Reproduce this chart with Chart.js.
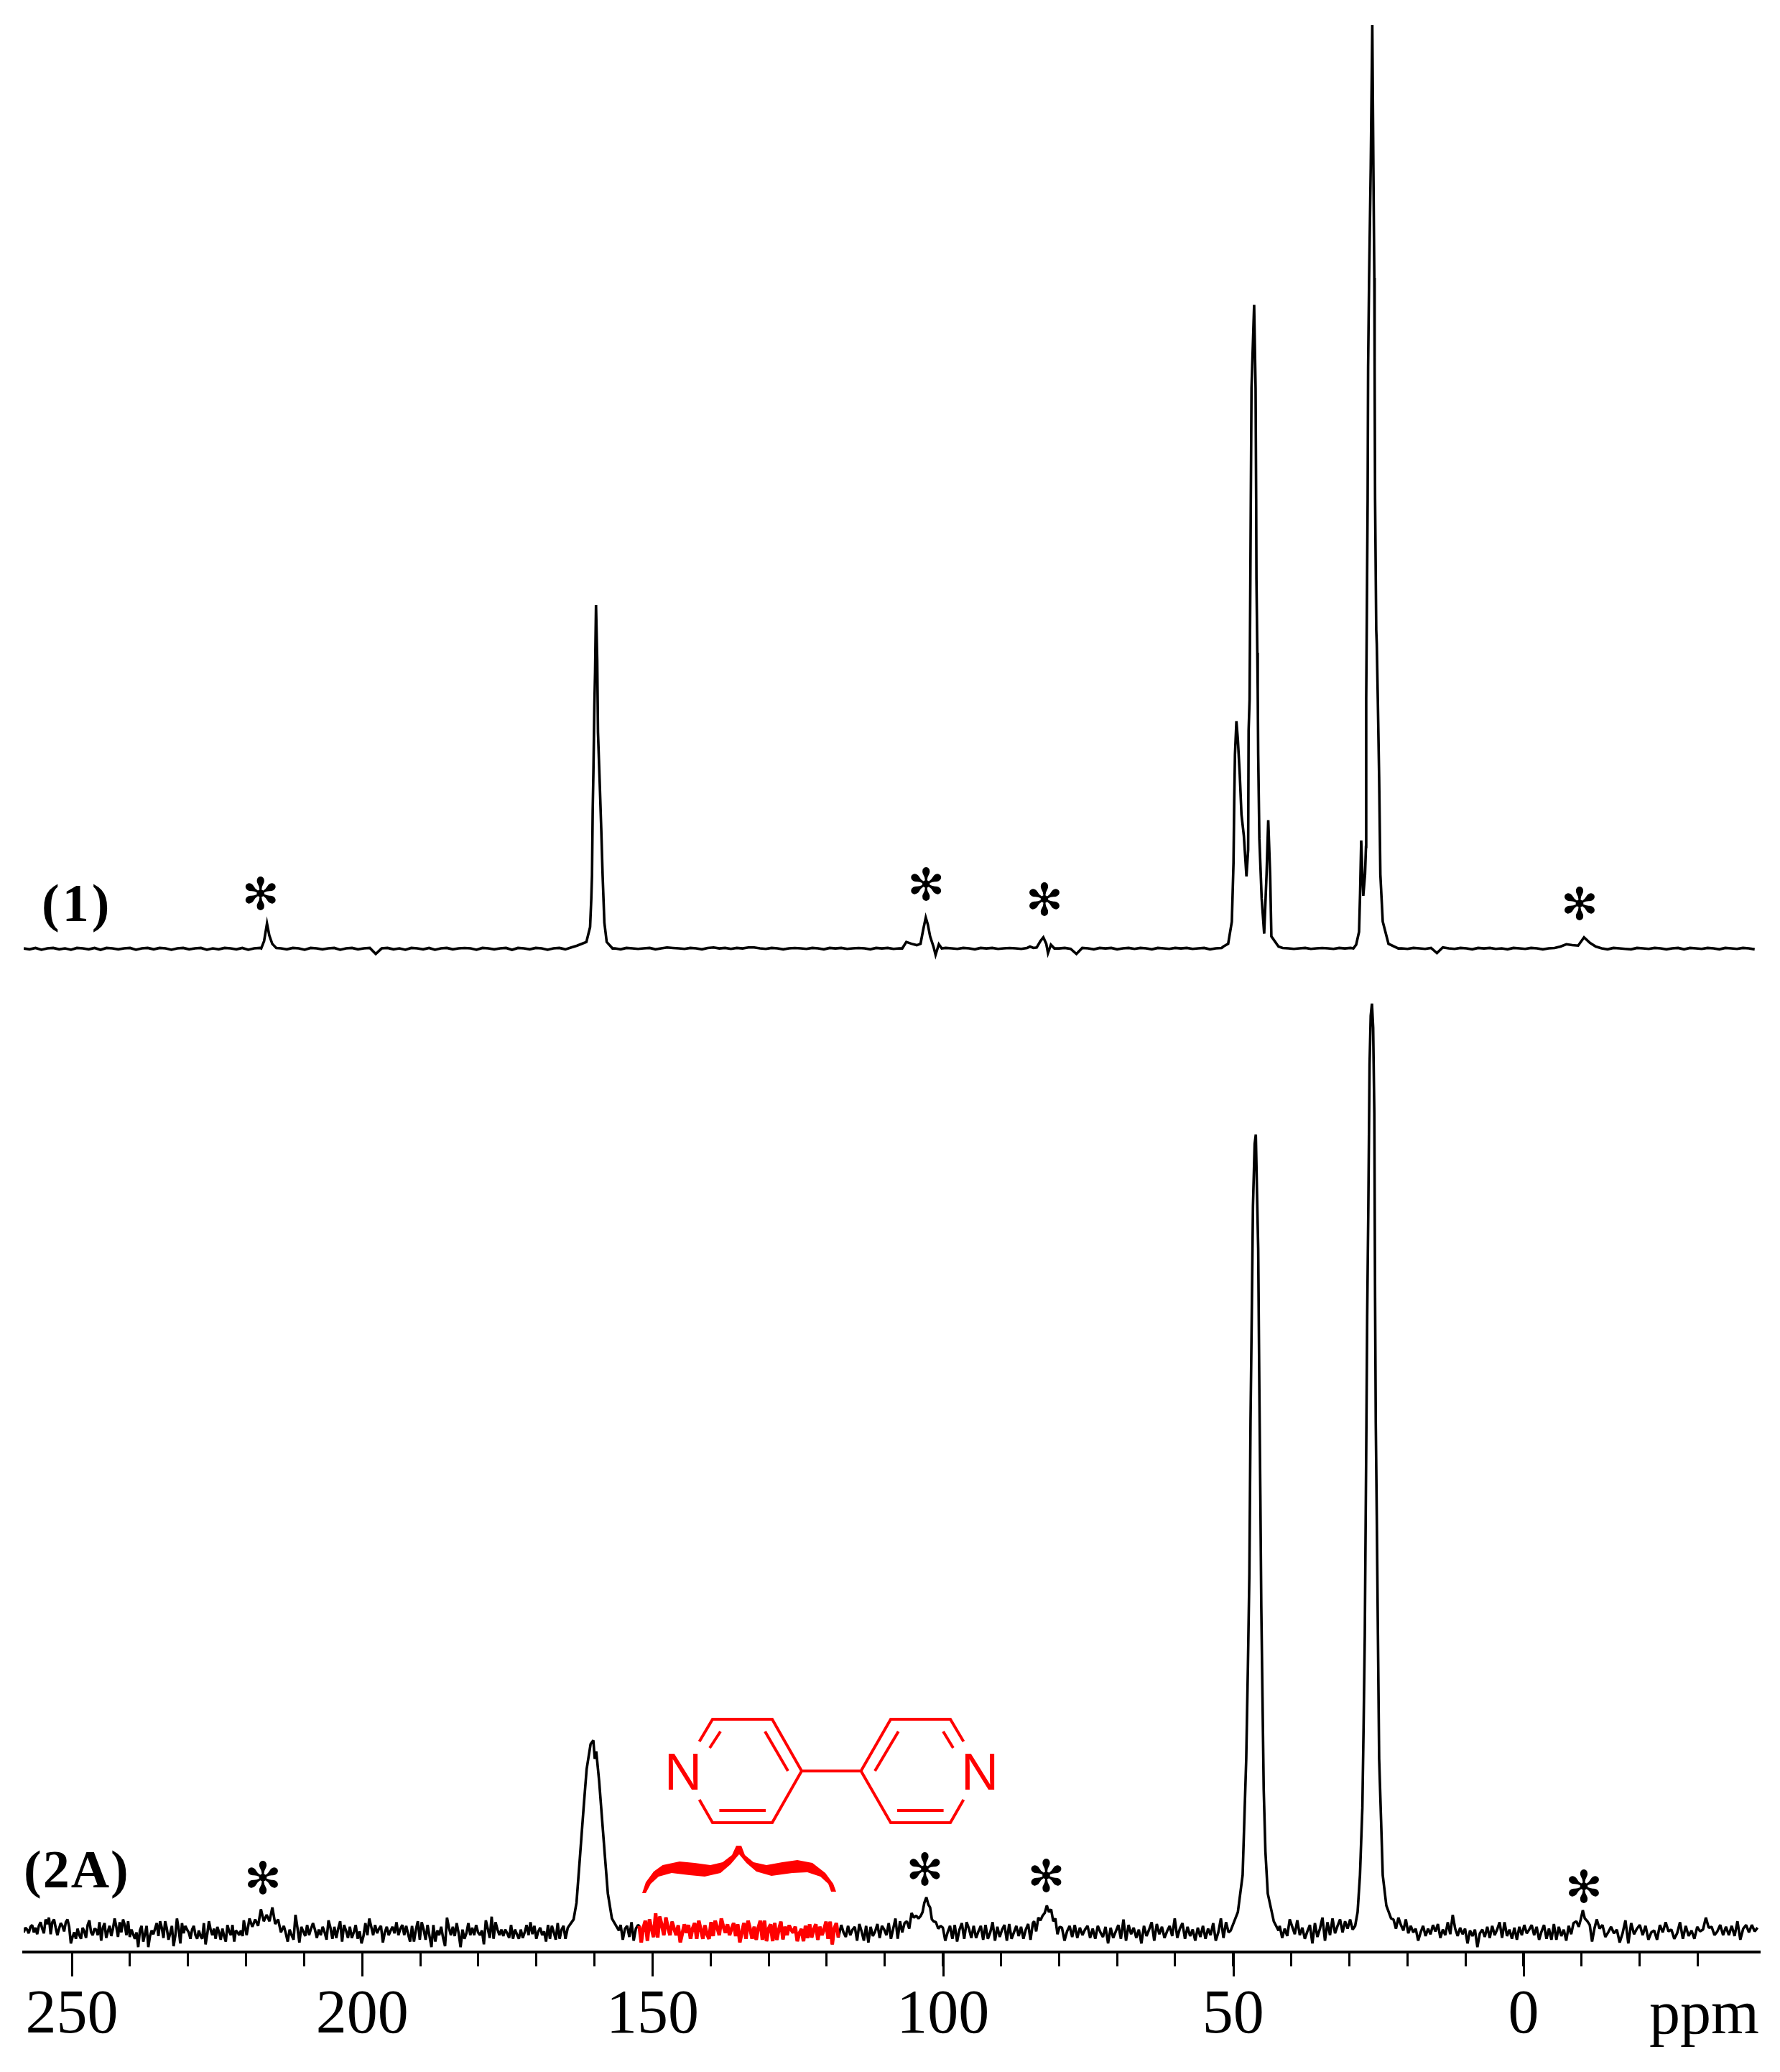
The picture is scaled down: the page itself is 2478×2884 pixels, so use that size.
<!DOCTYPE html>
<html>
<head>
<meta charset="utf-8">
<title>NMR spectra</title>
<script src="https://cdn.jsdelivr.net/npm/chart.js@4/dist/chart.umd.min.js"></script>
<style>
  html, body { margin: 0; padding: 0; background: #fff; }
  canvas { display: block; }
</style>
</head>
<body>
<canvas id="spectra" width="2478" height="2884"></canvas>
<script>
// --- axis ---
const tickValues = [250, 240, 230, 220, 210, 200, 190, 180, 170, 160, 150, 140, 130, 120, 110, 100, 90, 80, 70, 60, 50, 40, 30, 20, 10, 0, -10, -20, -30];
const majorTicks = [250, 200, 150, 100, 50, 0];

// --- spectrum (1), flat stretches read at about 1 ppm ---
const top1 = [0,-.1,.05,-.15,0,.05,-.1,0,-.15,.05,0,-.1,.05,-.15,.05,0,-.1,0,.05,-.15,0,.05,-.1,.05,0,-.15,0,.05,-.1,0,.05,-.15,0,-.1,.05,0,-.1,.05,-.15,0,.05];
const top2 = [0,-.1,.05,0,-.15,.05,0,-.1,0,.05,-.15,0,.05,-.1,0,.05,-.6,0,.05,-.1,0,-.15,.05,0,-.1,.05,-.15,0,.05,-.1,0,.05,0,-.15,.05,0,-.1,0,.05,-.15,.05,0,-.1,.05,0,-.15,0,.05,-.1,.1];
const top3 = [0,-.1,.05,0,-.05,0,.05,-.1,0,.1,.05,0,-.05,.05,0,-.1,.05,.1,0,.05,-.05,.05,0,.1,.1,0,-.05,.05,0,-.1,0,.05,0,-.05,.05,0,-.1,.05,0,.05,-.05,0,.05,0,-.1,.05,0,.05,-.05,0];
const top4 = [.05,0,-.05,.05,0,-.1,.05,0,.05,-.05,0,.05,0,-.05,.05];
const top5 = [0,.05,-.05,-.6,.05,0,-.1,.05,0,.05,-.1,0,.05,-.05,.05,0,-.1,.05,0,-.05,.05,0,.05,-.05,0,.05,-.1,0,.05];
const top6 = [.05,0,-.05,0,.05,-.05,0,.05,0,-.05,.05,0,.05];
const top7 = [0,-.05,.05,0,-.05,.05,-.5,.1,0,-.05,.05,0,-.1,.05,0,.05,-.05,0,-.1,.05,0,-.05,.05,0,-.1,0,.05,.2,.45,.35,.3,1.2,.6,.2,0,-.1,.05,0,-.05,-.1,.05,0,-.05,.05,0,-.1,0,.05,-.1,.05,0,-.05,.05,0,-.1,.05,0,-.05,.05,0,-.1];
const peak216 = [[217.4,0],[216.9,.8],[216.4,2.7],[216,1.4],[215.5,.5],[214.8,.05]];
const peak160 = [[163,.3],[161.4,.7],[160.76,2.3],[160.55,5.4],[160.43,7.9],[160.31,14.9],[160.19,19],[160.02,26.3],[159.9,29.9],[159.74,37.2],[159.53,31.2],[159.4,23.4],[159.12,18.3],[158.84,13],[158.6,7.9],[158.3,2.8],[157.9,.7],[156.9,0]];
const peak103 = [[107,0],[106.3,.7],[105.4,.5],[104.5,.35],[103.85,.5],[103.4,2],[102.95,3.35],[102.6,2.6],[102.2,1.3],[101.6,.15],[101.26,-.7],[100.7,.45],[100.2,0]];
const peak82 = [[85,.2],[84.4,.05],[83.85,.1],[83.2,.8],[82.7,1.2],[82.2,.5],[81.9,-.5],[81.4,.4],[80.8,0]];
const peak46 = [[51.7,.2],[50.87,.5],[50.24,2.9],[49.95,9.3],[49.83,15.8],[49.7,21],[49.45,24.6],[49.2,22.6],[48.88,18.9],[48.58,14.5],[48.17,12.2],[47.72,7.8],[47.43,10.7],[47.35,23.6],[47.18,27],[47.05,40],[46.97,48.7],[46.85,60.7],[46.4,69.7],[46.15,60.7],[46.05,48.7],[46,40],[45.85,32],[45.78,28],[45.7,21],[45.5,11.9],[45.1,5.4],[44.67,1.6],[44.26,8],[43.97,13.9],[43.64,8],[43.43,1.3],[42.2,.2]];
const peak26 = [[29.3,0],[28.83,.4],[28.33,1.8],[28.15,6],[27.96,11.7],[27.75,8],[27.6,5.7],[27.3,8],[27.14,11],[27.1,27],[27.01,34.5],[26.85,48.7],[26.77,63],[26.6,72.6],[26.32,84.5],[26.05,100],[25.86,84.5],[25.7,72.6],[25.65,63],[25.57,48.7],[25.37,34.5],[25.28,33],[25.1,27],[24.87,18.4],[24.66,8],[24.25,2.9],[23.26,.5],[21.57,0]];

// --- spectrum (2A), noise ---
const low1 = [-.2,.3,.1,-.3,.4,.6,-.2,.3,-.4,.5,.9,.2,-.3,1.2,.7,1.4,-.4,.9,1.2,.3,-.5,.2,.8,.5,-.1,.9,1.2,.4,-1.4,-.7,-.2,-.9,.2,-.5,-.9,.3,-.1,-.8,.6,1.1,-.2,-.5,.2,.1,-.5,.9,-1.1,.3,.8,-.8,-.1,.5,-.6,.2,1.3,.4,-.7,.9,-.2,1.2,.6,-.5,1,-.7,.1,-.4,-.9,-.2,-1.8,0,.5,-1.2,-.4,.5,-1.8,-.6,0,-.4,.2,.8,-.6,1,.3,-.8,1,.2,-1,-.3,.5,-1.7,-.6,1.3,.2,-1.4,.8,-.3,.5,.1,-.2,-.9,.1,.5,-.5,-.9,0,-.6,-.9,.8,-1.5,-.4,1,.1,-.5,.2,-.9,.4,-.2,-1,.2,-.6,-1.2,.6,-.1,-.5,.6,-1.2,0,-.2,-.5,0,-.6];
const low2 = [1.1,-.5,1.3,.4,1.2,.5,2.3,1,1.7,1,2.5,.7,1.2,-.2];
const low3 = [.5,-.3,-1.2,.1,-.5,-1,1.7,.3,-1.3,.4,-.1,-.6,.6,-.5,.2,.8,.1,-.8,.1,-.5,.4,-.2,-1,1.1,.3,-.9,.4,-.8,.2,1,-1.2,.6,0,-.8,.4,-.8,-.2,.6,-.9,-.1,-1.4,-.6,.8,-.5,1.3,.4,-.5,.6,-.3,.2,.5,-1.3,-.2,.4,-.5,0,.4,-.3,.9,-.5,.2,.6,-.5,.5,-.4,-1.2,.5,-1.2,.1,1,-1,.9,.1,-1,.6,-.6,-1.8,.6,-1.2,0,-.5,.4,-.8,-1.7,1.4,.3,-.5,.4,-.6,.8,-.3,-1.8,.1,-.9,-.3,.8,-.5,.3,-.5,.6,-.2,-.5,0,-1.5,1.1,.2,-.8,1.5,-.9,.9,.1,-.5,.1,-.6,.1,-.3,-.8,.6,-.9,.1,-.4,-.9,.1,-.8,-.2,.6,-.5,.9,-.4,.5,-.9,-.1,.3,-.5,-.1,-1.2,.6,-.9,.5,-.2,-1,.8,-.9,.1,.5,-.9];
const low4 = [.6,-1,.2,.5,-.7,.9,-1.1,.2,.6];
const lowRed = [.5,-1.3,.3,1.06,-1.1,1.2,.2,-.7,1.85,-.75,1.5,.6,-.5,1.4,.3,-.5,.95,.2,-.5,.55,-1.27,-.3,.67,-.25,.6,-.9,.2,.8,-.9,1.06,.1,-.9,.55,-.4,-.9,.9,-.6,1.06,.3,-.5,1.3,.4,-.25,.67,-.5,.2,.8,-.6,.67,-1.27,-.2,.8,-.9,1.06,.2,-.9,.4,-1,.3,1.06,-1,1.06,-1.15,.2,.67,-1.15,.8,-1,.1,.95,-.95,.4,-.5,.55,.1,-.25,.4,-1.15,-.3,.15,-1.15,.5,-.8,.67,-.75,.1,.67,-1,.4,-.5,.1,.95,-.9,.95,-1.5,.2,.8,-.75];
const low5 = [.6,-.2,-.7,.5,-.5,.1,.4,-1.1,.7,-.1,-1.1,.5,-1.3,.4,-.6,-.1,.7,-.8,.5,.1,-.5,.8,-.9,.2,1.3,-.9,1,-.2];
const low6 = [.3,-1.1,-.2,.5,-.9,.6,-1.2,.1,.8,-.9,.9,.2,-.8,.5,-.8,-.1,.5,-1,.6,-.9,-.2,.9,-1.1,.4,-.7,.1,.6,-1.1,.7,-.9,-.2,.5,-.6,.4,-.9,.1,.7,-1,.8];
const low7 = [1,-.1,1.4,1.1,1.6,1.9,2.7,2,2.3,1,1.3,-.4,.4];
const low8 = [.3,-1.1,-.1,.5,-.7,.6,-.8,.3,-.5,.1,.5,-.8,.2,-.9,.5,-.2,-.7,.4,-1.4,.3,-.8,-.1,.6,-.9,1.2,-1.1,.6,-.4,.3,-.8,.1,-1.4,.5,-.6,.1,.9,-1.1,.7,-.4,.4,-.8,-.1,.5,-.6,1.3,-.8,.2,.8,-.9,.4,-.6,.1,-1.1,.3,-.7,.5,-.9,.2,-.5,.8,-1.1,-.2,1.3,-.8,.9,-.2];
const low9 = [.5,-.8,.2,-.6,1.2,.4,-.4,1.1,-.5,.3,-.9,-.1,.6,-1.4,.8,-.7,.2,1.4,-1.1,.9,-.5,1.3,-.3,.5,1.2,-.2,1,.2,1.2,.1,.5];
const low10 = [1.2,.2,1.4,.6,0,1.2,-.3,.5,-.2,.2,-1.1,-.2,.5,-.6,.2,-.4,.6,-.1,.7,-.8,.1,-.5,.9,-.4,1.7,.2,-.6,.3,-.4,.2,-1.4,0,-.6,.1,-1.8,-.3,.1,-.7,.4,-.8,.5,-.5,.1,.9,-.8,.9,-.6,.1,-.9,.3,-1,.4,-.5,.6,-.3,.1,.6,-.5,.4,-1,-.1,.6,-.9,.2,-1,.7,-1,.4,-.6,.1,-1.1,.5,-.4];
const low11 = [1.2,.2,.6,-.7,-.2,.4,-.3,.1,-1.3,-.3,1.1,-1.4,.8,-.4,.2,.6,-.5,.5,-1,-.2,0,-1,.6,-.2,.9,-.1,.1,-.9,-.3,.9,-.9,.5,-.6,0,-.9,.4,-.1,.1,1.4,.3,.4,-.5,-.1,.6,-.5,.4,-.5,.5,-.6,1,-1,.2,.6,-.2,.6,-.1,.3];
const lowPeak160 = [[164.6,.3],[163.6,1.2],[163.1,3],[162.5,8],[161.85,13.5],[161.35,17.5],[160.67,20.2],[160.2,20.6],[159.95,18.6],[159.7,19.4],[159.2,16.2],[158.7,12.1],[158.2,8],[157.7,4],[157,1.3],[155.8,0]];
const lowPeak103 = [[106.6,.8],[106.2,1],[105.8,.2],[105.4,1.9],[105,1.4],[104.6,1.6],[104.2,1.3],[103.8,1.6],[103.5,2],[103.2,3],[102.85,3.6],[102.5,2.8],[102.2,2.5],[101.9,1.2],[101.6,1],[101.2,.9],[100.8,.2],[100.4,.5]];
const lowPeak46 = [[50.44,0],[49.2,2],[48.38,6],[47.76,18.6],[47.47,28.6],[47.22,38.6],[47.02,55.2],[46.81,66.5],[46.6,78.5],[46.31,85.2],[46.11,86.2],[45.9,79.8],[45.7,73.9],[45.5,58.5],[45.33,47.2],[45.17,35.3],[44.96,25.3],[44.75,15.3],[44.46,8.6],[44.05,4],[43.02,1],[42.2,0]];
const lowPeak26 = [[28.58,2],[28.17,6],[27.76,13.3],[27.55,22],[27.34,32],[27.22,42],[27.06,55],[26.93,66.5],[26.73,78.5],[26.52,93.8],[26.32,99.1],[26.11,100.4],[25.9,97.8],[25.7,88.5],[25.57,68.5],[25.45,55],[25.28,45],[25.08,32],[24.87,18.6],[24.54,12],[24.25,6],[23.63,2.7],[22.81,1.3]];
const lowPeakM10 = [[-8.6,.8],[-9.1,1],[-9.5,.4],[-9.85,1.2],[-10.2,2.2],[-10.55,1.3],[-11,1],[-11.4,.6],[-11.8,-1.2],[-12.2,.2]];

// --- asterisks over the sidebands: ppm, height in spectrum units ---
const starPpm1 = [217.5, 102.9, 82.5, -9.65];
const starHeight1 = [6, 7, 5.4, 4.9];
const starPpm2 = [217.1, 103.1, 82.2, -10.4];
const starHeight2 = [5.76, 6.7, 6, 4.8];

const redFrom = 152.3;
const redTo = 118;

// reparte una lista de valores entre dos ppm
function spread(start, end, values) {
    return values.map((v, i) => ({ x: start + (end - start) * i / (values.length - 1), y: v }));
}
function pairs(list) {
    return list.map(p => ({ x: p[0], y: p[1] }));
}

const spectrum1 = [].concat(
    spread(258.3, 217.6, top1), pairs(peak216), spread(214, 164, top2), pairs(peak160),
    spread(156.5, 107.5, top3), pairs(peak103), spread(99.5, 85.5, top4), pairs(peak82),
    spread(80, 52, top5), pairs(peak46), spread(41.5, 29.8, top6), pairs(peak26),
    spread(21, -39.8, top7)
);
const spectrum2 = [].concat(
    spread(258.3, 220.6, low1), spread(220.4, 214, low2), spread(213.5, 165, low3), pairs(lowPeak160),
    spread(155.5, 152.5, low4), spread(redFrom, redTo, lowRed), spread(117.5, 107, low5), pairs(lowPeak103),
    spread(100, 84.5, low6), spread(84.3, 79.9, low7), spread(79.5, 50.8, low8), pairs(lowPeak46),
    spread(42, 29, low9), pairs(lowPeak26), spread(22.4, -8.2, low10), pairs(lowPeakM10), spread(-12.6, -40.3, low11)
);
const spectrum2Red = spectrum2.filter(p => p.x <= redFrom && p.x >= redTo);

// --- everything the axis itself cannot draw ---
const bracePoints = [[894,2635],[899,2620],[910,2605],[922.5,2596],[946,2591],[967,2593],[989,2596],[1006,2592],[1019,2582],[1025,2569],[1032,2569],[1037,2582],[1049,2592],[1067,2596],[1089,2592],[1110,2589],[1131,2593],[1149,2607],[1160,2622],[1164,2633],[1157,2633],[1153,2622],[1142,2612],[1124,2606],[1103,2607],[1074,2611],[1053,2605],[1039,2593],[1029,2581],[1017,2595],[1003,2607],[981,2612],[960,2610],[935,2607],[917,2612],[906,2622],[899,2635]];
const moleculeLines = [
    [[973.6,2424],[992,2393],[1075,2393],[1116,2465],[1075,2537],[992,2537],[973.6,2505]],
    [[1003,2410],[988,2433]], [[1065,2410],[1097,2465]], [[1001.4,2520],[1066,2520]],
    [[1116,2465],[1198.6,2465]],
    [[1341.4,2424],[1323,2393],[1240,2393],[1198.6,2465],[1240,2537],[1323,2537],[1341.4,2505]],
    [[1250.7,2410],[1218,2465]], [[1313,2410],[1327,2433]], [[1249,2520],[1313.6,2520]]
];

const extras = {
    id: 'extras',
    afterDraw(chart) {
        const ctx = chart.ctx;
        const x = chart.scales.x;
        ctx.save();

        // ticks largos cada 50 ppm
        ctx.strokeStyle = '#000';
        ctx.lineWidth = 3;
        majorTicks.forEach(v => {
            const px = Math.round(x.getPixelForValue(v)) + 0.5;
            ctx.beginPath();
            ctx.moveTo(px, x.top);
            ctx.lineTo(px, x.top + 34);
            ctx.stroke();
        });

        // asteriscos
        ctx.fillStyle = '#000';
        ctx.font = '62px "DejaVu Sans"';
        ctx.textAlign = 'center';
        ctx.textBaseline = 'alphabetic';
        const m = ctx.measureText('\u273B');
        const shift = (m.actualBoundingBoxAscent - m.actualBoundingBoxDescent) / 2;
        starPpm1.forEach((p, i) => {
            ctx.fillText('\u273B', x.getPixelForValue(p), chart.scales.yTop.getPixelForValue(starHeight1[i]) + shift);
        });
        starPpm2.forEach((p, i) => {
            ctx.fillText('\u273B', x.getPixelForValue(p), chart.scales.yLow.getPixelForValue(starHeight2[i]) + shift);
        });

        // etiquetas
        ctx.textAlign = 'left';
        ctx.font = 'bold 74px "Liberation Serif"';
        ctx.letterSpacing = '4px';
        ctx.fillText('(1)', 58, 1282);
        ctx.letterSpacing = '2px';
        ctx.fillText('(2A)', 33, 2627);
        ctx.letterSpacing = '0px';
        ctx.textAlign = 'right';
        ctx.font = '86px "Liberation Serif"';
        ctx.fillText('ppm', 2449, 2830);

        // llave y bipiridina en rojo
        ctx.fillStyle = '#ff0000';
        ctx.strokeStyle = '#ff0000';
        ctx.beginPath();
        bracePoints.forEach((p, i) => i ? ctx.lineTo(p[0], p[1]) : ctx.moveTo(p[0], p[1]));
        ctx.closePath();
        ctx.fill();
        ctx.lineWidth = 4;
        ctx.lineJoin = 'miter';
        moleculeLines.forEach(line => {
            ctx.beginPath();
            line.forEach((p, i) => i ? ctx.lineTo(p[0], p[1]) : ctx.moveTo(p[0], p[1]));
            ctx.stroke();
        });
        ctx.textAlign = 'center';
        ctx.font = '72px "Liberation Sans"';
        ctx.fillText('N', 951, 2491);
        ctx.fillText('N', 1364, 2491);
        ctx.restore();
    }
};

new Chart(document.getElementById('spectra').getContext('2d'), {
    type: 'line',
    data: {
        datasets: [
            { data: spectrum1, yAxisID: 'yTop', borderColor: '#000', borderWidth: 3.6, pointRadius: 0, tension: 0, order: 2 },
            { data: spectrum2, yAxisID: 'yLow', borderColor: '#000', borderWidth: 3.6, borderJoinStyle: 'bevel', pointRadius: 0, tension: 0, order: 2 },
            // order mas bajo = se dibuja encima
            { data: spectrum2Red, yAxisID: 'yLow', borderColor: '#ff0000', borderWidth: 5, borderJoinStyle: 'bevel', pointRadius: 0, tension: 0, order: 1 }
        ]
    },
    options: {
        responsive: false,
        animation: false,
        devicePixelRatio: 1,
        layout: { padding: { left: 33, right: 28, top: 0, bottom: 0 } },
        plugins: { legend: { display: false }, tooltip: { enabled: false }, title: { display: false } },
        scales: {
            x: {
                type: 'linear',
                reverse: true,
                min: -40.7,
                max: 258.3,
                afterBuildTicks: scale => { scale.ticks = tickValues.map(v => ({ value: v })); },
                afterFit: scale => { scale.height = 167; },
                border: { display: true, color: '#000', width: 4 },
                grid: { drawOnChartArea: false, drawTicks: true, tickLength: 20, tickWidth: 3, tickColor: '#000' },
                ticks: {
                    autoSkip: false,
                    maxRotation: 0,
                    padding: 18,
                    color: '#000',
                    font: { family: '"Liberation Serif"', size: 86 },
                    callback: v => (majorTicks.includes(v) ? String(v) : '')
                }
            },
            // same units on both: 12.85 px per unit, only the baseline moves
            yTop: { type: 'linear', display: false, min: -108.7, max: 102.72 },
            yLow: { type: 'linear', display: false, min: -2.33, max: 209.1 }
        }
    },
    plugins: [extras]
});
</script>
</body>
</html>
